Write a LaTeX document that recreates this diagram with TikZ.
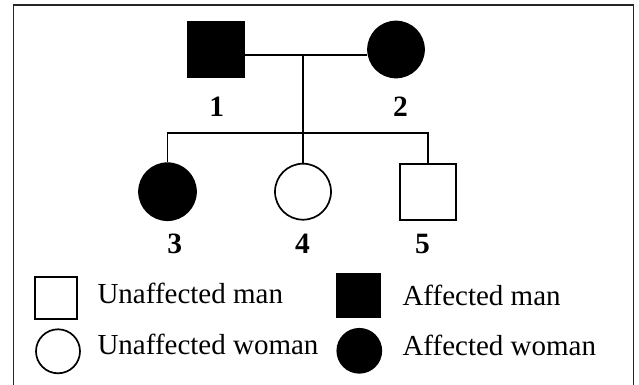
\documentclass[tikz,border=0pt]{standalone}
\usepackage{fontspec}
\setmainfont{Liberation Serif}
\begin{document}
\begin{tikzpicture}[x=1pt,y=-1pt,
  line width=1.7pt,
  male/.style={draw=black,rectangle,minimum width=#1,minimum height=#1,inner sep=0pt},
  female/.style={draw=black,circle,minimum size=#1,inner sep=0pt},
  affected/.style={fill=black},
  unaffected/.style={fill=white},
  idlabel/.style={font=\fontsize{29.5}{30}\selectfont\bfseries,inner sep=0pt},
  legendtext/.style={font=\fontsize{29}{30}\selectfont,anchor=base west,inner sep=0pt},
  link/.style={draw=black,line width=1.8pt}]
  \useasboundingbox (0,0) rectangle (639,385);
  % open frame
  \draw[black!85,line width=1.5pt] (13.3,390) -- (13.3,5) -- (633.7,5) -- (633.7,390);

  % parents
  \node[male=56,affected] (p1) at (215.7,49.5) {};
  \node[female=56,affected] (p2) at (396,49.5) {};
  % children
  \node[female=57,affected] (c3) at (167.5,191.7) {};
  \node[female=56,unaffected] (c4) at (303,191.7) {};
  \node[male=56,unaffected] (c5) at (427.7,191.7) {};

  % connectors
  \coordinate (mate) at (303,54.7);
  \coordinate (sib) at (303,132.7);
  \draw[link] (p1.east |- mate) -- (p2.west |- mate);
  \draw[link] (mate) -- (c4.north);
  \draw[link] (c3.north) |- (c5.north |- sib) -- (c5.north);

  % identifiers
  \node[idlabel] (n1) at (216.7,106.7) {1};
  \node[idlabel] (n2) at (400.5,106.7) {2};
  \node[idlabel] (n3) at (174.7,244.2) {3};
  \node[idlabel] (n4) at (302.5,244.2) {4};
  \node[idlabel] (n5) at (422.5,244.2) {5};

  % legend
  \node[male=42,unaffected] (k1) at (56.2,298.3) {};
  \node[legendtext] (t1) at (96.7,303.3) {Unaffected man};
  \node[female=44,unaffected] (k2) at (58,351.3) {};
  \node[legendtext] (t2) at (96.7,354.3) {Unaffected woman};
  \node[male=43.5,affected] (k3) at (358.7,295.3) {};
  \node[legendtext] (t3) at (401.7,305) {Affected man};
  \node[female=44,affected] (k4) at (359.3,350.8) {};
  \node[legendtext] (t4) at (401.7,355.7) {Affected woman};
\end{tikzpicture}
\end{document}
